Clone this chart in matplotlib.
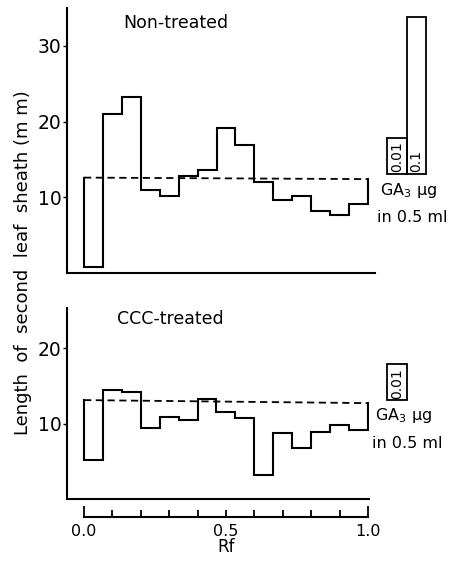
import numpy as np
import matplotlib
matplotlib.use("Agg")
import matplotlib.pyplot as plt

# Rf zones (15 equal strips of the chromatogram)
n_zones = 15
rf_edges = np.linspace(0.0, 1.0, n_zones + 1)

# second leaf sheath length (mm) per Rf zone
non_treated = [0.8, 21.0, 23.2, 11.0, 10.2, 12.85, 13.6, 19.2, 16.9, 12.0,
               9.6, 10.2, 8.2, 7.7, 9.1]
ccc_treated = [5.1, 14.5, 14.2, 9.4, 10.9, 10.5, 13.2, 11.5, 10.7, 3.2,
               8.8, 6.8, 8.9, 9.8, 9.2]

# control level (dashed), start and end
ctrl_non = [12.6, 12.4]
ctrl_ccc = [13.1, 12.7]

# GA3 standards
ga_labels_non = ["0.01", "0.1"]
ga_values_non = [17.8, 33.8]
ga_labels_ccc = ["0.01"]
ga_values_ccc = [17.9]
ga_base = 13.1

rf_ticks = [0.0, 0.5, 1.0]
rf_ticklabels = ["0.0", "0.5", "1.0"]

W, H = 449, 561
fig = plt.figure(figsize=(W / 100, H / 100), dpi=100)
lw = 1.5
font = "DejaVu Sans"


def pane(rect, xlim, ylim, yticks, values, ctrl, ga_labels, ga_values, title, title_xy, ga_xy):
    ax = fig.add_axes(rect)
    ax.set_xlim(*xlim)
    ax.set_ylim(*ylim)
    for s in ("top", "right"):
        ax.spines[s].set_visible(False)
    ax.spines["left"].set_linewidth(lw)
    ax.spines["bottom"].set_linewidth(lw)
    ax.set_xticks([])
    ax.set_yticks(yticks)
    ax.set_yticklabels([str(t) for t in yticks], fontsize=13.5, family=font)
    ax.tick_params(axis="y", length=3, width=1, pad=1)

    # step outline, starting and ending at the control level
    xs = np.concatenate([[rf_edges[0]], np.repeat(rf_edges, 2)[1:-1], [rf_edges[-1]]])
    ys = np.concatenate([[ctrl[0]], np.repeat(values, 2), [ctrl[1]]])
    ax.plot(xs, ys, color="black", lw=lw, solid_joinstyle="miter")
    ax.plot([rf_edges[0], rf_edges[-1]], ctrl, color="black", lw=1.3,
            ls=(0, (4, 2.5)))

    # GA3 standard bars to the right of the chromatogram
    bw = 1.0 / n_zones * 1.04
    x0 = 1.067
    for i, (lab, v) in enumerate(zip(ga_labels, ga_values)):
        xl = x0 + i * bw
        ax.add_patch(plt.Rectangle((xl, ga_base), bw, v - ga_base, fill=False,
                                   ec="black", lw=1.3, clip_on=False))
        ax.text(xl + bw / 2, ga_base + 0.2, lab, rotation=90, ha="center",
                va="bottom", fontsize=10, family=font, clip_on=False)

    ax.text(ga_xy[0], ga_xy[1], "GA$_3$ µg", fontsize=11.5, family=font,
            ha="left", va="center", clip_on=False)
    ax.text(ga_xy[0] - 0.01, ga_xy[2], "in 0.5 ml", fontsize=11.5, family=font,
            ha="left", va="center", clip_on=False)
    ax.text(title_xy[0], title_xy[1], title, fontsize=12.5, family=font,
            ha="left", va="center")
    return ax


pane([67 / W, 1 - 273 / H, 308 / W, 265 / H], (-0.06, 1.025), (0, 35.0),
     [10, 20, 30], non_treated, ctrl_non, ga_labels_non, ga_values_non,
     "Non-treated", (0.137, 33.0), (1.042, 10.9, 7.3))

pane([67 / W, 1 - 499 / H, 302 / W, 191 / H], (-0.06, 1.004), (0, 25.3),
     [10, 20], ccc_treated, ctrl_ccc, ga_labels_ccc, ga_values_ccc,
     "CCC-treated", (0.116, 23.8), (1.025, 11.1, 7.4))

# separate Rf scale under the lower panel
rx = fig.add_axes([84 / W, 1 - 517 / H, 284 / W, 0.01])
rx.set_xlim(0, 1)
for s in ("top", "right", "left"):
    rx.spines[s].set_visible(False)
rx.spines["bottom"].set_linewidth(lw)
rx.set_yticks([])
rx.set_xticks(rf_ticks)
rx.set_xticklabels(rf_ticklabels, fontsize=11.5, family=font)
rx.set_xticks(np.arange(0.1, 1.0, 0.1), minor=True)
rx.tick_params(axis="x", which="both", direction="in", width=1.3, pad=5)
rx.tick_params(axis="x", which="major", length=8)
rx.tick_params(axis="x", which="minor", length=5)
rx.xaxis.get_major_ticks()[1].tick1line.set_markersize(5)
rx.set_xlabel("Rf", fontsize=12, family=font, labelpad=-1)

fig.text(23 / W, 1 - 263 / H, "Length  of  second  leaf  sheath (m m)",
         rotation=90, ha="center", va="center", fontsize=13, family=font)

fig.savefig("out.png", dpi=100)
